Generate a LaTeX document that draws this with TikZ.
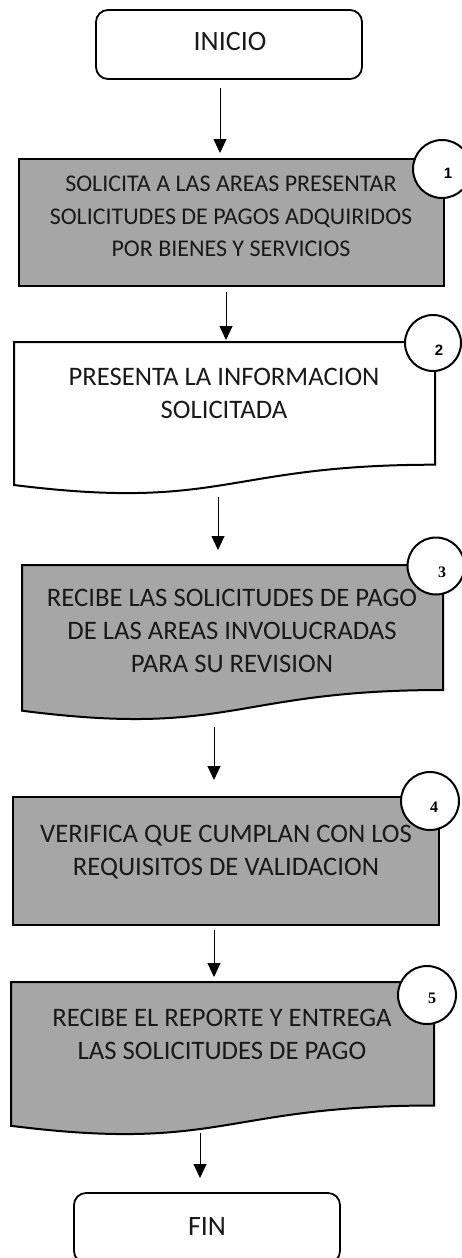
\documentclass[tikz,border=0pt]{standalone}
\usepackage{fontspec}
\setmainfont{Carlito}
\newfontfamily\numfont{Liberation Sans}
\newfontfamily\numserif{Liberation Serif}
\usetikzlibrary{arrows.meta}
\definecolor{boxgray}{RGB}{166,166,166}
\tikzset{
  stepbox/.style={draw=black, line width=2pt, fill=boxgray, rectangle, inner sep=0pt},
  termbox/.style={draw=black, line width=1.8pt, fill=white, rounded corners=12pt, inner sep=0pt},
  docline/.style={draw=black, line width=2pt},
  txt/.style={font=\fontsize{24}{32.5}\selectfont, align=center, inner sep=0pt, text=black!90},
  bigtxt/.style={txt, font=\fontsize{26.7}{33}\selectfont},
  numcirc/.style={circle, draw=black, line width=2pt, fill=white, inner sep=0pt},
  numtxt/.style={font=\numfont\bfseries\fontsize{15}{15}\selectfont, inner sep=0pt},
  numtxts/.style={font=\numserif\bfseries\fontsize{16}{16}\selectfont, inner sep=0pt},
  arr/.style={line width=0.9pt, -{Triangle[width=13pt,length=14pt]}}
}
\begin{document}
\begin{tikzpicture}[x=1pt,y=-1pt]
\useasboundingbox (0,0) rectangle (462,1258);
% INICIO
\node[termbox, minimum width=266pt, minimum height=69pt] (ini) at (229,44.5) {};
\node[txt, font=\fontsize{28}{30}\selectfont] (initxt) at (230,42) {INICIO};
% Box 1
\node[stepbox, minimum width=425pt, minimum height=127pt] (b1) at (231.5,222.5) {};
\node[numcirc, minimum size=58pt] (c1) at (442,169) {};
\node[numtxt] (n1) at (448,173) {1};
\node[txt] (t1) at (231,216.5) {SOLICITA A LAS AREAS PRESENTAR\\SOLICITUDES DE PAGOS ADQUIRIDOS\\POR BIENES Y SERVICIOS};
% Box 2 (document)
\coordinate (b2nw) at (14,342);
\coordinate (b2ne) at (435,342);
\draw[docline, fill=white] (b2nw) -- (b2ne) -- (435,464.7)
  .. controls (224.5,464.7) and (224.5,511.4) .. (14,485) -- cycle;
\node[numcirc, minimum size=56pt] (c2) at (433,343) {};
\node[numtxt] (n2) at (439,350) {2};
\node[bigtxt] (t2) at (224,393.5) {PRESENTA LA INFORMACION\\SOLICITADA};
% Box 3 (document)
\coordinate (b3nw) at (22,565);
\coordinate (b3ne) at (443,565);
\draw[docline, fill=boxgray] (b3nw) -- (b3ne) -- (443,690)
  .. controls (232.5,690) and (232.5,737.8) .. (22,710.7) -- cycle;
\node[numcirc, minimum size=57pt] (c3) at (436,566) {};
\node[numtxts] (n3) at (442,572) {3};
\node[bigtxt] (t3) at (232,630.5) {RECIBE LAS SOLICITUDES DE PAGO\\DE LAS AREAS INVOLUCRADAS\\PARA SU REVISION};
% Box 4
\node[stepbox, minimum width=426pt, minimum height=128pt] (b4) at (226,861) {};
\node[numcirc, minimum size=58pt] (c4) at (430,801) {};
\node[numtxts] (n4) at (434,807) {4};
\node[bigtxt] (t4) at (226,852) {VERIFICA QUE CUMPLAN CON LOS\\REQUISITOS DE VALIDACION};
% Box 5 (document)
\coordinate (b5nw) at (11,982);
\coordinate (b5ne) at (434,982);
\draw[docline, fill=boxgray] (b5nw) -- (b5ne) -- (434,1105.5)
  .. controls (222.5,1105.5) and (222.5,1152.6) .. (11,1125.8) -- cycle;
\node[numcirc, minimum size=58pt] (c5) at (427,995) {};
\node[numtxts] (n5) at (432,998) {5};
\node[bigtxt] (t5) at (222,1034) {RECIBE EL REPORTE Y ENTREGA\\LAS SOLICITUDES DE PAGO};
% FIN
\node[termbox, minimum width=266pt, minimum height=70pt] (fin) at (207,1228) {};
\node[txt, font=\fontsize{28}{30}\selectfont] (fintxt) at (207,1227) {FIN};
% arrows
\coordinate (a1s) at (220,88);  \coordinate (a1e) at (220,153);
\coordinate (a2s) at (226,292); \coordinate (a2e) at (226,340);
\coordinate (a3s) at (218,497); \coordinate (a3e) at (218,550);
\coordinate (a4s) at (214,727); \coordinate (a4e) at (214,780);
\coordinate (a5s) at (214,930); \coordinate (a5e) at (214,977);
\coordinate (a6s) at (200,1133); \coordinate (a6e) at (200,1178);
\draw[arr] (a1s) -- (a1e);
\draw[arr] (a2s) -- (a2e);
\draw[arr] (a3s) -- (a3e);
\draw[arr] (a4s) -- (a4e);
\draw[arr] (a5s) -- (a5e);
\draw[arr] (a6s) -- (a6e);
\end{tikzpicture}
\end{document}
